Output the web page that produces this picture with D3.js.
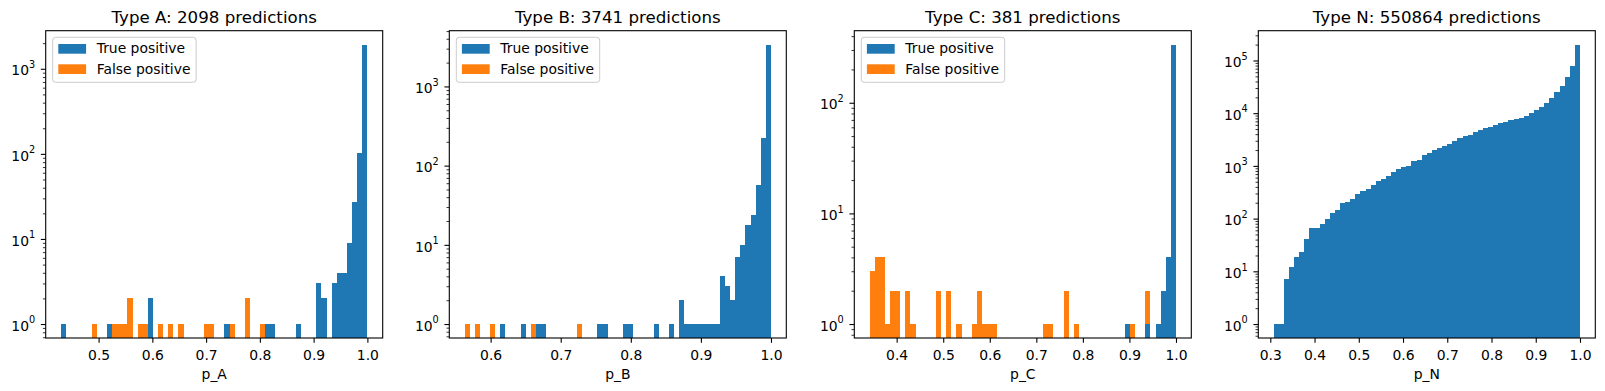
<!DOCTYPE html>
<html>
<head>
<meta charset="utf-8">
<script src="https://cdn.jsdelivr.net/npm/d3@7"></script>
<style>
  body { margin: 0; background: #fff; }
  svg { display: block; font-family: "DejaVu Sans", sans-serif; }
</style>
</head>
<body>
<div id="chart"></div>
<script>
// counts per bin, 60 equal bins between the range ends (as in the hist call)
const titles = ["Type A: 2098 predictions", "Type B: 3741 predictions", "Type C: 381 predictions", "Type N: 550864 predictions"];
const xLabels = ["p_A", "p_B", "p_C", "p_N"];
const seriesNames = ["True positive", "False positive"];

const rangeA = [0.4301, 1.0];
const tpA = [
  1, 0, 0, 0, 0, 0, 0, 0, 0, 1,
  0, 0, 0, 0, 0, 0, 0, 2, 0, 0,
  0, 0, 0, 0, 0, 0, 0, 0, 0, 0,
  0, 0, 1, 0, 0, 0, 0, 0, 0, 0,
  1, 1, 0, 0, 0, 0, 1, 0, 0, 0,
  3, 2, 0, 3, 4, 4, 9, 27, 102, 1921];
const fpA = [
  0, 0, 0, 0, 0, 0, 1, 0, 0, 0,
  1, 1, 1, 2, 0, 1, 1, 0, 0, 1,
  0, 1, 0, 1, 0, 0, 0, 0, 1, 1,
  0, 0, 0, 1, 0, 0, 2, 0, 0, 1,
  0, 0, 0, 0, 0, 0, 0, 0, 0, 0,
  0, 0, 0, 0, 0, 0, 0, 0, 0, 0];
const ticksA = [0.5, 0.6, 0.7, 0.8, 0.9, 1.0];

const rangeB = [0.5629, 1.0];
const tpB = [
  0, 0, 0, 0, 0, 0, 0, 1, 0, 0,
  0, 1, 0, 0, 1, 1, 0, 0, 0, 0,
  0, 0, 0, 0, 0, 0, 1, 1, 0, 0,
  0, 1, 1, 0, 0, 0, 0, 1, 0, 0,
  1, 0, 2, 1, 1, 1, 1, 1, 1, 1,
  4, 3, 2, 7, 10, 18, 24, 57, 224, 3368];
const fpB = [
  1, 0, 1, 0, 0, 1, 0, 0, 0, 0,
  0, 0, 0, 1, 0, 0, 0, 0, 0, 0,
  0, 0, 1, 0, 0, 0, 0, 0, 0, 0,
  0, 0, 0, 0, 0, 0, 0, 0, 0, 0,
  0, 0, 0, 0, 0, 0, 0, 0, 0, 0,
  0, 0, 0, 0, 0, 0, 0, 0, 0, 0];
const ticksB = [0.6, 0.7, 0.8, 0.9, 1.0];

const rangeC = [0.3419, 1.0];
const tpC = [
  0, 0, 0, 0, 0, 0, 0, 0, 0, 0,
  0, 0, 0, 0, 0, 0, 0, 0, 0, 0,
  0, 0, 0, 0, 0, 0, 0, 0, 0, 0,
  0, 0, 0, 0, 0, 0, 0, 0, 0, 0,
  0, 0, 0, 0, 0, 0, 0, 0, 0, 0,
  1, 0, 0, 0, 1, 0, 1, 2, 4, 335];
const fpC = [
  3, 4, 4, 1, 2, 2, 0, 2, 1, 0,
  0, 0, 0, 2, 0, 2, 0, 1, 0, 0,
  1, 2, 1, 1, 1, 0, 0, 0, 0, 0,
  0, 0, 0, 0, 1, 1, 0, 0, 2, 0,
  1, 0, 0, 0, 0, 0, 0, 0, 0, 0,
  0, 1, 0, 0, 1, 0, 0, 0, 0, 0];
const ticksC = [0.4, 0.5, 0.6, 0.7, 0.8, 0.9, 1.0];

const rangeN = [0.3075, 1.0];
const countsN = [
  1, 1, 7, 12, 19, 23, 41, 66, 66, 79,
  98, 127, 145, 197, 205, 234, 292, 333, 363, 433,
  515, 562, 641, 764, 871, 949, 992, 1232, 1290, 1603,
  1750, 1995, 2175, 2372, 2588, 2951, 3366, 3673, 3838, 4375,
  4773, 5209, 5444, 5941, 6484, 6775, 7395, 7726, 8071, 8800,
  10030, 11430, 13030, 15520, 19310, 25100, 32600, 48300, 78100, 199500];
const ticksN = [0.3, 0.4, 0.5, 0.6, 0.7, 0.8, 0.9, 1.0];

const panels = [
  { range: rangeA, tp: tpA, fp: fpA, ticks: ticksA },
  { range: rangeB, tp: tpB, fp: fpB, ticks: ticksB },
  { range: rangeC, tp: tpC, fp: fpC, ticks: ticksC },
  { range: rangeN, tp: countsN, fp: null, ticks: ticksN }
];

const width = 1605, height = 391;
const axLefts = [45.7, 449.3, 854.3, 1258.3];
const axW = 337, axTop = 30.7, axBottom = 338;
const blue = "#1f77b4", orange = "#ff7f0e";
const fs = 13.9;

const svg = d3.select("#chart").append("svg")
  .attr("width", width)
  .attr("height", height);

panels.forEach((p, k) => {
  const left = axLefts[k];
  const n = p.tp.length;
  const [lo, hi] = p.range;
  const span = hi - lo;
  const edges = d3.range(n + 1).map(i => lo + i * span / n);

  const x = d3.scaleLinear()
    .domain([lo - 0.05 * span, hi + 0.05 * span])
    .range([left, left + axW]);

  const totals = p.tp.map((v, i) => v + (p.fp ? p.fp[i] : 0));
  const M = Math.log10(d3.max(totals));
  const y = d3.scaleLog()
    .domain([Math.pow(10, -0.05 * M), Math.pow(10, 1.05 * M)])
    .range([axBottom, axTop]);
  const yMin = y.domain()[0];

  const g = svg.append("g");
  const clipId = "clip" + k;
  g.append("clipPath").attr("id", clipId)
    .append("rect")
    .attr("x", left).attr("y", axTop)
    .attr("width", axW).attr("height", axBottom - axTop);

  const bars = g.append("g").attr("clip-path", `url(#${clipId})`)
    .attr("shape-rendering", "crispEdges");

  const idx = d3.range(n);
  bars.selectAll("rect.tp")
    .data(idx.filter(i => p.tp[i] > 0))
    .enter().append("rect")
    .attr("class", "tp")
    .attr("x", i => x(edges[i]))
    .attr("width", i => x(edges[i + 1]) - x(edges[i]))
    .attr("y", i => y(p.tp[i]))
    .attr("height", i => y(yMin) - y(p.tp[i]))
    .attr("fill", blue);

  if (p.fp) {
    bars.selectAll("rect.fp")
      .data(idx.filter(i => p.fp[i] > 0))
      .enter().append("rect")
      .attr("class", "fp")
      .attr("x", i => x(edges[i]))
      .attr("width", i => x(edges[i + 1]) - x(edges[i]))
      .attr("y", i => y(p.tp[i] + p.fp[i]))
      .attr("height", i => y(p.tp[i] > 0 ? p.tp[i] : yMin) - y(p.tp[i] + p.fp[i]))
      .attr("fill", orange);
  }

  // x axis
  const xAxis = g.append("g")
    .attr("transform", `translate(0,${axBottom})`)
    .call(d3.axisBottom(x).tickValues(p.ticks).tickSize(4.86).tickPadding(6.8)
      .tickFormat(d3.format(".1f")));
  xAxis.select(".domain").remove();
  xAxis.selectAll("line").attr("stroke", "#000").attr("stroke-width", 1.1);
  xAxis.selectAll("text").attr("font-size", fs).attr("fill", "#000")
    .attr("font-family", "DejaVu Sans");

  // y axis: majors at powers of ten, minors at 2..9
  const [d0, d1] = y.domain();
  const majors = [], minors = [];
  for (let e = Math.floor(Math.log10(d0)); e <= Math.ceil(Math.log10(d1)); e++) {
    for (let m = 1; m <= 9; m++) {
      const v = m * Math.pow(10, e);
      if (v < d0 || v > d1) continue;
      (m === 1 ? majors : minors).push(v);
    }
  }
  const yAxis = g.append("g")
    .attr("transform", `translate(${left},0)`)
    .call(d3.axisLeft(y).tickValues(majors).tickSize(4.86).tickFormat(""));
  yAxis.select(".domain").remove();
  yAxis.selectAll("line").attr("stroke", "#000").attr("stroke-width", 1.1);

  const yMinor = g.append("g")
    .attr("transform", `translate(${left},0)`)
    .call(d3.axisLeft(y).tickValues(minors).tickSize(2.78).tickFormat(""));
  yMinor.select(".domain").remove();
  yMinor.selectAll("line").attr("stroke", "#000").attr("stroke-width", 0.8);

  const yLab = g.selectAll("text.ylab")
    .data(majors)
    .enter().append("text")
    .attr("class", "ylab")
    .attr("x", left - 10.5)
    .attr("y", d => y(d) + 6.7)
    .attr("text-anchor", "end")
    .attr("font-size", fs)
    .attr("fill", "#000");
  yLab.append("tspan").text("10");
  yLab.append("tspan")
    .attr("font-size", fs * 0.7)
    .attr("dy", -7.5)
    .text(d => Math.round(Math.log10(d)));

  // spines
  g.append("rect")
    .attr("x", left).attr("y", axTop)
    .attr("width", axW).attr("height", axBottom - axTop)
    .attr("fill", "none").attr("stroke", "#000").attr("stroke-width", 1.1);

  // title and x label
  g.append("text")
    .attr("x", left + axW / 2).attr("y", 22.8)
    .attr("text-anchor", "middle")
    .attr("font-size", 16.67)
    .text(titles[k]);
  g.append("text")
    .attr("x", left + axW / 2).attr("y", 379)
    .attr("text-anchor", "middle")
    .attr("font-size", fs)
    .text(xLabels[k]);

  // legend
  if (p.fp) {
    const lg = g.append("g").attr("transform", `translate(${left + 7},${axTop + 6.6})`);
    lg.append("rect")
      .attr("width", 143.4).attr("height", 45)
      .attr("rx", 2.8)
      .attr("fill", "#fff").attr("fill-opacity", 0.8)
      .attr("stroke", "#cccccc").attr("stroke-width", 1);
    const rows = lg.selectAll("g.row")
      .data(seriesNames)
      .enter().append("g")
      .attr("class", "row")
      .attr("transform", (d, i) => `translate(0,${i * 20.3})`);
    rows.append("rect")
      .attr("x", 5.6).attr("y", 6.7)
      .attr("width", 27.8).attr("height", 9.7)
      .attr("fill", (d, i) => i === 0 ? blue : orange);
    rows.append("text")
      .attr("x", 44).attr("y", 16.2)
      .attr("font-size", fs)
      .text(d => d);
  }
});
</script>
</body>
</html>
